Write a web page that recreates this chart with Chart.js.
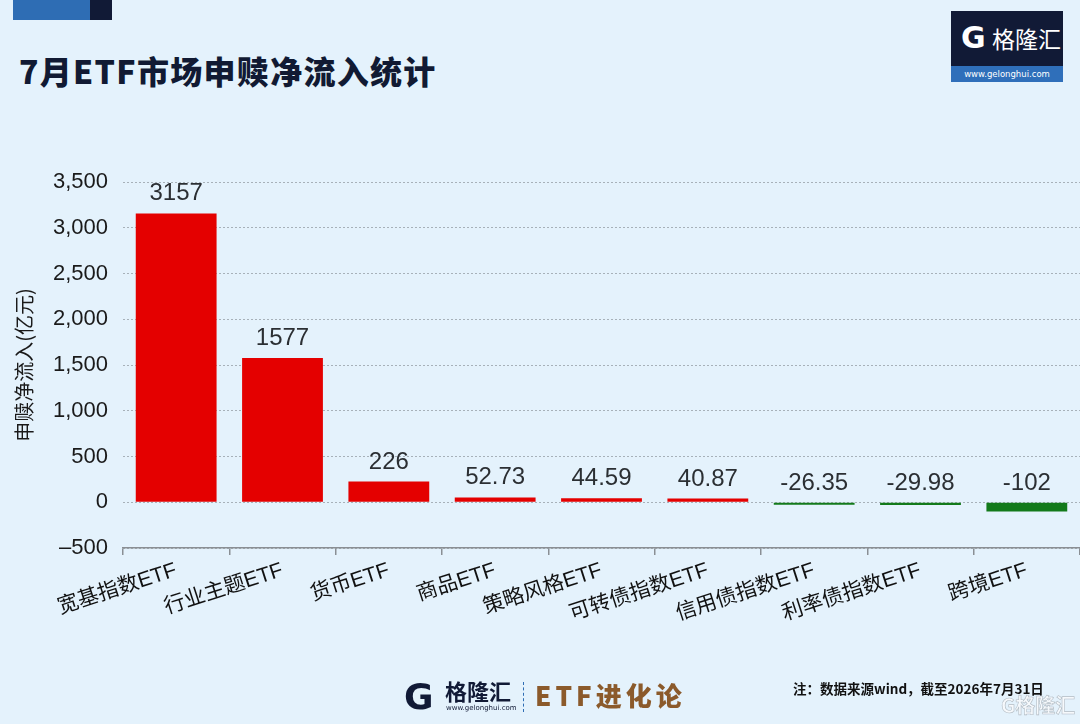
<!DOCTYPE html>
<html>
<head>
<meta charset="utf-8">
<script src="https://cdn.jsdelivr.net/npm/chart.js@4.4.0/dist/chart.umd.min.js"></script>
<style>
  html, body { margin: 0; padding: 0; }
  body { width: 1080px; height: 724px; background: #e4f2fc; position: relative; overflow: hidden;
         font-family: "Liberation Sans", "Noto Sans CJK SC", sans-serif; }
  #wrap { position: absolute; left: 0; top: 0; width: 1080px; height: 724px; }
  .abs { position: absolute; }
  .cjk { font-family: "Noto Sans CJK SC", sans-serif; }
</style>
</head>
<body>
<!-- top-left colour blocks -->
<div class="abs" style="left:13px;top:0;width:77px;height:20px;background:#2e6db4"></div>
<div class="abs" style="left:90px;top:0;width:22px;height:20px;background:#111a36"></div>

<div class="abs cjk" style="left:19px;top:47px;font-size:32px;font-weight:900;color:#111a33;letter-spacing:1.3px">7月ETF市场申赎净流入统计</div>

<!-- top-right logo -->
<div class="abs" style="left:951px;top:11px;width:112px;height:55px;background:#111a36"></div>
<div class="abs" style="left:951px;top:66px;width:112px;height:16px;background:#2f6fba;color:#fff;font-size:8.5px;line-height:16px;text-align:center;font-family:'DejaVu Sans',sans-serif">www.gelonghui.com</div>
<div class="abs" style="left:961px;top:20px;font-size:30px;font-weight:bold;color:#fff;font-family:'DejaVu Sans',sans-serif;line-height:36px">G</div>
<div class="abs cjk" style="left:992px;top:22px;font-size:23px;color:#fff;line-height:32px">格隆汇</div>

<div id="wrap"><canvas id="flowChart"></canvas></div>

<!-- bottom logos -->
<div class="abs" style="left:404px;top:676px;font-size:36px;font-weight:bold;color:#111a36;font-family:'DejaVu Sans',sans-serif;line-height:42px">G</div>
<div class="abs cjk" style="left:445px;top:676px;font-size:22px;font-weight:bold;color:#111a36;line-height:28px">格隆汇</div>
<div class="abs" style="left:446px;top:704px;font-size:7px;color:#111a36;font-family:'DejaVu Sans',sans-serif">www.gelonghui.com</div>
<div class="abs" style="left:523px;top:682px;height:30px;border-left:1px dashed #2e6db4"></div>
<div class="abs cjk" style="left:535px;top:678px;font-size:26px;font-weight:900;color:#8b5a2b;line-height:34px;letter-spacing:4px">ETF进化论</div>
<div class="abs cjk" style="left:793px;top:679px;font-size:13.5px;font-weight:bold;color:#111;line-height:18px">注：数据来源wind，截至2026年7月31日</div>
<div class="abs cjk" style="left:1001px;top:692px;font-size:20px;font-weight:bold;color:#f6f9fc;line-height:26px;-webkit-text-stroke:0.6px #b3bcc4">G格隆汇</div>

<script>
// ETF categories and July net subscription (亿元)
const categories = ['宽基指数ETF', '行业主题ETF', '货币ETF', '商品ETF', '策略风格ETF',
                    '可转债指数ETF', '信用债指数ETF', '利率债指数ETF', '跨境ETF'];
const netFlow = [3157, 1577, 226, 52.73, 44.59, 40.87, -26.35, -29.98, -102];
const yTicks = [-500, 0, 500, 1000, 1500, 2000, 2500, 3000, 3500];

const RED = '#e40000';
const GREEN = '#127a1a';

// value labels above each bar (negatives sit above the zero line)
const valueLabels = {
    id: 'valueLabels',
    afterDatasetsDraw(chart) {
        const ctx = chart.ctx;
        const meta = chart.getDatasetMeta(0);
        ctx.save();
        ctx.font = '24px "Liberation Sans", Arial, sans-serif';
        ctx.fillStyle = '#2b2f33';
        ctx.textAlign = 'center';
        ctx.textBaseline = 'alphabetic';
        meta.data.forEach((bar, i) => {
            const top = Math.min(bar.y, bar.base);
            ctx.fillText(String(netFlow[i]), bar.x, top - 13);
        });
        ctx.restore();
    }
};

const ctx = document.getElementById('flowChart').getContext('2d');
new Chart(ctx, {
    type: 'bar',
    data: {
        labels: categories,
        datasets: [{
            data: netFlow,
            backgroundColor: netFlow.map(v => v >= 0 ? RED : GREEN),
            borderWidth: 0,
            barPercentage: 0.76,
            categoryPercentage: 1
        }]
    },
    options: {
        responsive: true,
        maintainAspectRatio: false,
        animation: false,
        layout: {
            padding: { left: 12, top: 182, right: 0, bottom: 0 }
        },
        plugins: {
            legend: { display: false },
            tooltip: { enabled: false }
        },
        scales: {
            y: {
                min: -500,
                max: 3500,
                afterBuildTicks: function(scale) {
                    scale.ticks = yTicks.map(v => ({ value: v }));
                },
                afterFit: function(scale) {
                    scale.width = 111;
                },
                border: { display: false, dash: [2, 2] },
                grid: {
                    color: '#a7b1b9',
                    lineWidth: 1,
                    drawTicks: false
                },
                ticks: {
                    padding: 15,
                    color: '#1a1a1a',
                    font: { size: 22, family: '"Liberation Sans", Arial, sans-serif' },
                    callback: function(value) {
                        return value < 0 ? '\u2013' + Math.abs(value).toLocaleString('en-US')
                                         : value.toLocaleString('en-US');
                    }
                },
                title: {
                    display: true,
                    text: '申赎净流入(亿元)',
                    color: '#1a1a1a',
                    padding: 0,
                    font: { size: 20, family: '"Noto Sans CJK SC", sans-serif' }
                }
            },
            x: {
                afterFit: function(scale) {
                    scale.height = 176;
                },
                border: { display: true, color: '#8a8f94', width: 1.5 },
                grid: {
                    drawOnChartArea: false,
                    drawTicks: true,
                    tickLength: 7,
                    color: '#8a8f94',
                    lineWidth: 1.5
                },
                ticks: {
                    maxRotation: 18,
                    minRotation: 18,
                    padding: 3,
                    color: '#111',
                    font: { size: 21, family: '"Liberation Sans", "Noto Sans CJK SC", sans-serif' }
                }
            }
        }
    },
    plugins: [valueLabels]
});
</script>
</body>
</html>
